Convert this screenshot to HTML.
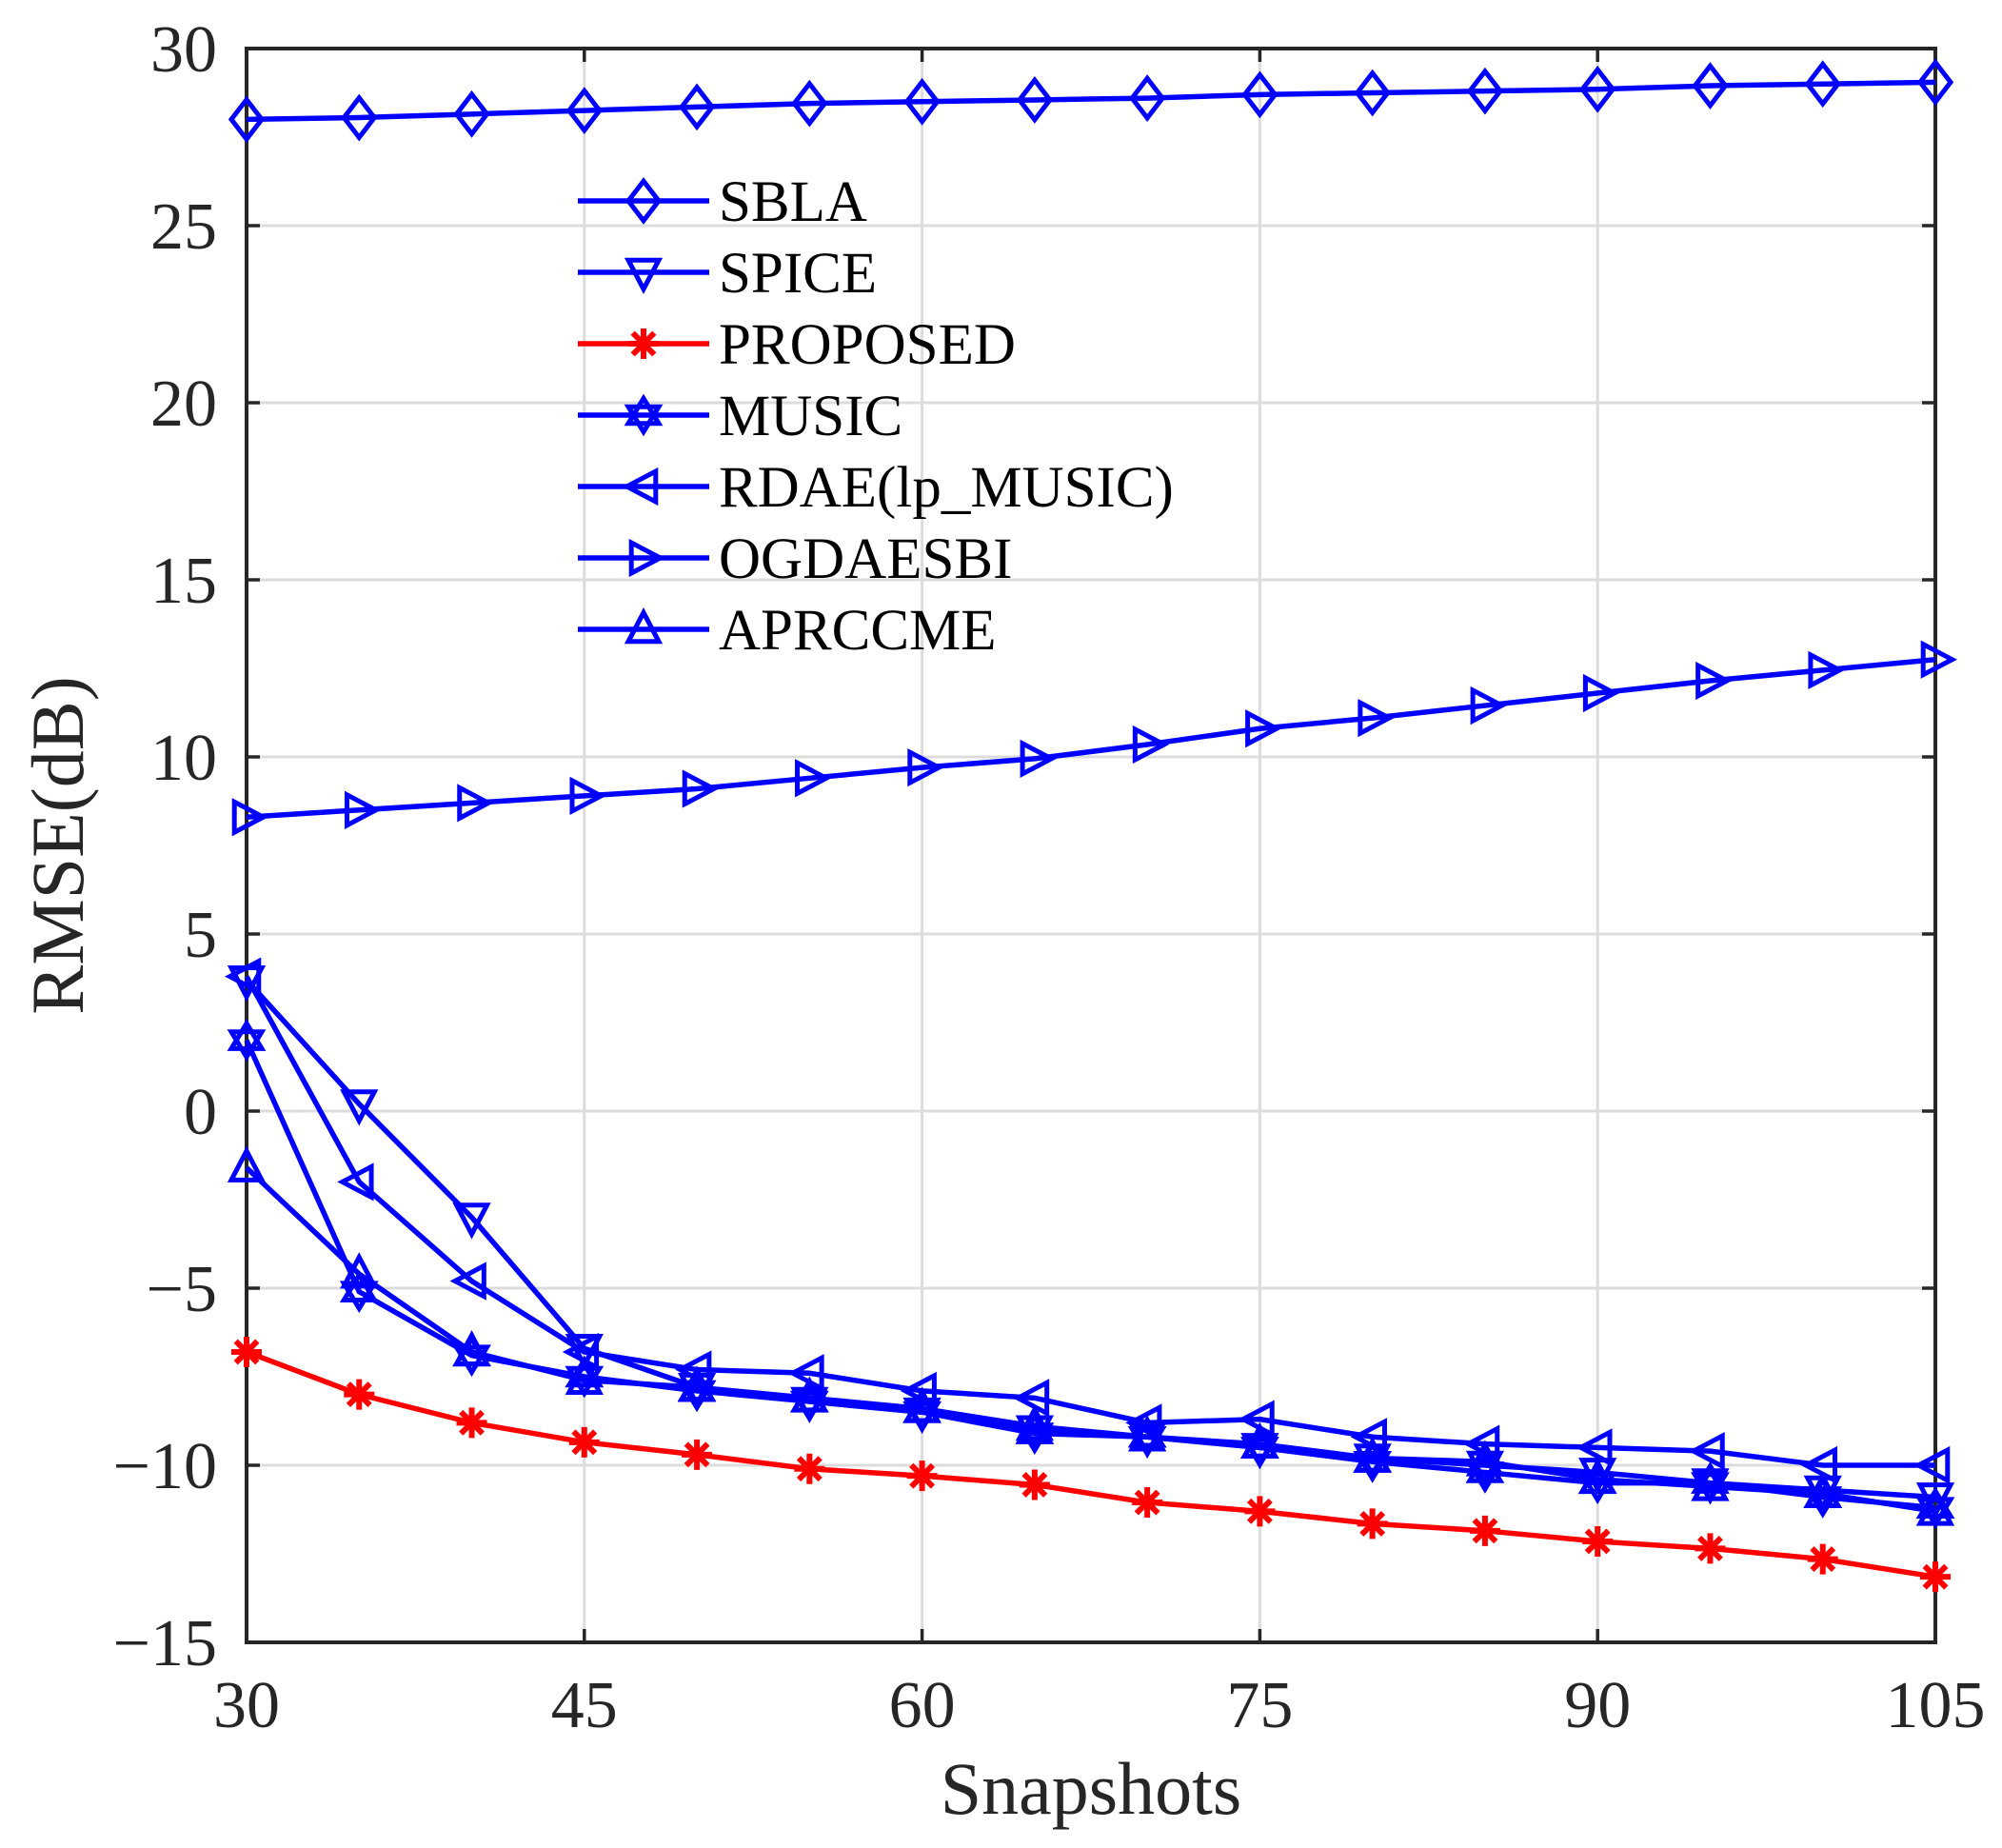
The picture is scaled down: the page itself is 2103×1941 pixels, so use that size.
<!DOCTYPE html>
<html><head><meta charset="utf-8"><style>
html,body{margin:0;padding:0;background:#fff}
svg{display:block}
text{font-family:"Liberation Serif",serif;fill:#262626}
</style></head><body>
<svg id="c" width="2103" height="1941" xmlns="http://www.w3.org/2000/svg"></svg>
<script>
const L=259,R=2033,T=51,B=1725;
const X=v=>L+(v-30)/75*(R-L), Y=v=>T+(30-v)/45*(B-T);
let s='';
for(let v=-10;v<=25;v+=5)s+=`<line x1="${L}" x2="${R}" y1="${Y(v)}" y2="${Y(v)}" stroke="#dcdcdc" stroke-width="3"/>`;
for(let v=45;v<=90;v+=15)s+=`<line y1="${T}" y2="${B}" x1="${X(v)}" x2="${X(v)}" stroke="#dcdcdc" stroke-width="3"/>`;
for(let v=-15;v<=30;v+=5){const y=Y(v);s+=`<line x1="${L}" x2="${L+14}" y1="${y}" y2="${y}" stroke="#262626" stroke-width="3.5"/><line x1="${R}" x2="${R-14}" y1="${y}" y2="${y}" stroke="#262626" stroke-width="3.5"/>`;
s+=`<text x="${L-31}" y="${y+24}" font-size="70" text-anchor="end">${v<0?'\u2212'+(-v):v}</text>`;}
for(let v=30;v<=105;v+=15){const x=X(v);s+=`<line y1="${B}" y2="${B-14}" x1="${x}" x2="${x}" stroke="#262626" stroke-width="3.5"/><line y1="${T}" y2="${T+14}" x1="${x}" x2="${x}" stroke="#262626" stroke-width="3.5"/>`;
s+=`<text x="${x}" y="1814" font-size="70" text-anchor="middle">${v}</text>`;}
s+=`<rect x="${L}" y="${T}" width="${R-L}" height="${B-T}" fill="none" stroke="#262626" stroke-width="4"/>`;
s+=`<text x="1146" y="1905" font-size="78" text-anchor="middle">Snapshots</text>`;
s+=`<text transform="translate(87,888) rotate(-90)" font-size="78" text-anchor="middle">RMSE(dB)</text>`;
function mk(t,x,y,c){const r=16,w=5;
 if(t=='d')return `<polygon points="${x},${y-r*1.3} ${x+r},${y} ${x},${y+r*1.3} ${x-r},${y}" fill="none" stroke="${c}" stroke-width="${w}"/>`;
 if(t=='v')return `<polygon points="${x-r},${y-r*0.8} ${x+r},${y-r*0.8} ${x},${y+r*1.1}" fill="none" stroke="${c}" stroke-width="${w}"/>`;
 if(t=='^')return `<polygon points="${x-r},${y+r*0.8} ${x+r},${y+r*0.8} ${x},${y-r*1.1}" fill="none" stroke="${c}" stroke-width="${w}"/>`;
 if(t=='<')return `<polygon points="${x+r*0.8},${y-r} ${x+r*0.8},${y+r} ${x-r*1.1},${y}" fill="none" stroke="${c}" stroke-width="${w}"/>`;
 if(t=='>')return `<polygon points="${x-r*0.8},${y-r} ${x-r*0.8},${y+r} ${x+r*1.1},${y}" fill="none" stroke="${c}" stroke-width="${w}"/>`;
 if(t=='h')return `<polygon points="${x-r},${y-r*0.55} ${x+r},${y-r*0.55} ${x},${y+r*1.1}" fill="none" stroke="${c}" stroke-width="${w}"/><polygon points="${x-r},${y+r*0.55} ${x+r},${y+r*0.55} ${x},${y-r*1.1}" fill="none" stroke="${c}" stroke-width="${w}"/>`;
 if(t=='*'){let o='';for(let a=0;a<180;a+=45){const ra=a*Math.PI/180;o+=`<line x1="${x-r*Math.sin(ra)}" y1="${y-r*Math.cos(ra)}" x2="${x+r*Math.sin(ra)}" y2="${y+r*Math.cos(ra)}" stroke="${c}" stroke-width="6"/>`;}return o;}
}
const B_='#0000ff';
const S=[
['d',B_,[28.0,28.05,28.15,28.25,28.35,28.45,28.5,28.55,28.6,28.7,28.75,28.8,28.85,28.95,29.0,29.05],'SBLA'],
['v',B_,[3.7,0.2,-3.0,-6.7,-7.8,-8.2,-8.5,-9.0,-9.2,-9.5,-9.8,-10.0,-10.2,-10.5,-10.7,-10.9],'SPICE'],
['*','#ff0000',[-6.8,-8.0,-8.8,-9.35,-9.7,-10.1,-10.3,-10.55,-11.05,-11.3,-11.65,-11.85,-12.15,-12.35,-12.65,-13.15],'PROPOSED'],
['h',B_,[2.0,-5.1,-6.9,-7.5,-7.9,-8.2,-8.5,-9.1,-9.2,-9.5,-9.9,-10.2,-10.5,-10.5,-10.9,-11.2],'MUSIC'],
['<',B_,[3.8,-2.0,-4.8,-6.8,-7.3,-7.4,-7.9,-8.1,-8.8,-8.7,-9.2,-9.4,-9.5,-9.6,-10.0,-10.0],'RDAE(lp_MUSIC)'],
['>',B_,[8.3,8.5,8.7,8.9,9.1,9.4,9.7,9.95,10.35,10.8,11.1,11.45,11.8,12.15,12.45,12.75],'OGDAESBI'],
['^',B_,[-1.6,-4.6,-6.8,-7.6,-7.8,-8.1,-8.4,-8.9,-9.2,-9.4,-9.8,-9.9,-10.4,-10.6,-10.8,-11.3],'APRCCME']];
S.forEach(([t,c,d])=>{s+=`<polyline fill="none" stroke="${c}" stroke-width="5.5" points="${d.map((v,i)=>X(30+5*i)+','+Y(v)).join(' ')}"/>`;
 d.forEach((v,i)=>s+=mk(t,X(30+5*i),Y(v),c));});
S.forEach(([t,c,d,n],i)=>{const y=211+i*75;s+=`<line x1="607" x2="745" y1="${y}" y2="${y}" stroke="${c}" stroke-width="5.5"/>`+mk(t,676,y,c)+`<text x="755" y="${y+21}" font-size="61" style="fill:#000">${n}</text>`;});
document.getElementById('c').innerHTML=s;
</script>
</body></html>
